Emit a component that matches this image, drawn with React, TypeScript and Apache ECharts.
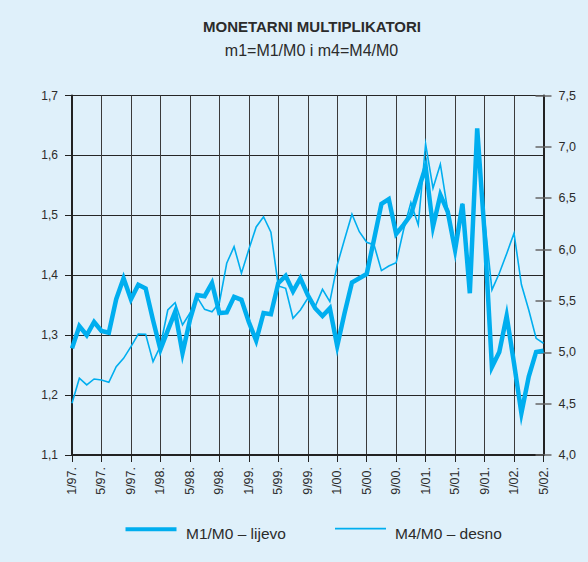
import React, { useEffect, useRef } from 'react';
import * as echarts from 'echarts';

const months: string[] = [];
for (let y = 97; y <= 102; y++) {
  for (let m = 1; m <= 12; m++) {
    if (y === 102 && m > 5) break;
    months.push(`${m}/${String(y % 100).padStart(2, '0')}.`);
  }
}

const m1m0: number[] = [
  1.278, 1.315, 1.300, 1.322, 1.307, 1.304, 1.360, 1.395, 1.360, 1.384, 1.378, 1.325,
  1.276, 1.308, 1.339, 1.270, 1.325, 1.367, 1.365, 1.387, 1.337, 1.338, 1.364, 1.359,
  1.322, 1.291, 1.337, 1.335, 1.387, 1.399, 1.373, 1.395, 1.367, 1.345, 1.332, 1.345,
  1.282, 1.337, 1.388, 1.395, 1.402, 1.460, 1.519, 1.527, 1.469, 1.484, 1.501, 1.542,
  1.581, 1.481, 1.534, 1.506, 1.442, 1.519, 1.370, 1.645, 1.470, 1.247, 1.272, 1.332,
  1.253, 1.170, 1.231, 1.272, 1.274,
];

const m4m0: number[] = [
  4.503, 4.747, 4.682, 4.740, 4.730, 4.708, 4.860, 4.941, 5.055, 5.178, 5.175, 4.909,
  5.061, 5.412, 5.483, 5.266, 5.380, 5.535, 5.418, 5.395, 5.480, 5.867, 6.028, 5.770,
  6.000, 6.220, 6.320, 6.170, 5.646, 5.623, 5.331, 5.412, 5.526, 5.444, 5.613, 5.493,
  5.850, 6.100, 6.344, 6.174, 6.071, 6.045, 5.795, 5.840, 5.872, 6.191, 6.457, 6.240,
  7.028, 6.597, 6.831, 6.380, 6.000, 6.450, 5.580, 7.050, 6.300, 5.607, 5.769, 5.960,
  6.159, 5.660, 5.412, 5.136, 5.088,
];

const titleText = 'MONETARNI MULTIPLIKATORI';
const subtitleText = 'm1=M1/M0 i m4=M4/M0';
const legendM1 = 'M1/M0 \u2013 lijevo';
const legendM4 = 'M4/M0 \u2013 desno';

const FONT = '"Liberation Sans", Arial, Helvetica, sans-serif';
const BLUE = '#00aeef';
const TEXT = '#2b2b2b';
const fmt = (v: number) => v.toFixed(1).replace('.', ',');

export default function App() {
  const ref = useRef<HTMLDivElement>(null);
  useEffect(() => {
    document.body.style.margin = '0';
    const chart = echarts.init(ref.current!, undefined, { renderer: 'svg' });
    chart.setOption({
      animation: false,
      backgroundColor: '#dff0fa',
      textStyle: { fontFamily: FONT },
      grid: { left: 72, right: 44.5, top: 95.5, bottom: 107, containLabel: false, outerBoundsMode: 'none' },
      xAxis: {
        type: 'category',
        data: months,
        boundaryGap: false,
        axisLine: { lineStyle: { color: '#222', width: 2 } },
        axisTick: { interval: 3, length: 7, lineStyle: { color: '#222', width: 1 } },
        axisLabel: { interval: 3, rotate: 90, margin: 12, fontSize: 12.5, color: TEXT, fontFamily: FONT },
        splitLine: { show: true, interval: 3, lineStyle: { color: '#3a3a3a', width: 1 } },
      },
      yAxis: [
        {
          type: 'value', min: 1.1, max: 1.7, interval: 0.1, position: 'left',
          axisLine: { show: true, lineStyle: { color: '#222', width: 2 } },
          axisTick: { show: true, length: 7, lineStyle: { color: '#222', width: 1 } },
          axisLabel: { formatter: fmt, margin: 14, fontSize: 12, color: TEXT, fontFamily: FONT },
          splitLine: { show: true, lineStyle: { color: '#262626', width: 1 } },
        },
        {
          type: 'value', min: 4, max: 7.5, interval: 0.5, position: 'right',
          axisLine: { show: true, lineStyle: { color: '#222', width: 2 } },
          axisTick: { show: true, length: 8, lineStyle: { color: '#666', width: 1.5 } },
          axisLabel: { formatter: fmt, margin: 15, fontSize: 12.5, color: TEXT, fontFamily: FONT },
          splitLine: { show: false },
        },
        {
          type: 'value', min: 4, max: 7.5, interval: 0.5, position: 'right',
          axisLine: { show: false },
          axisTick: { show: true, inside: true, length: 8, lineStyle: { color: '#666', width: 1.5 } },
          axisLabel: { show: false },
          splitLine: { show: false },
        },
      ],
      series: [
        {
          name: legendM1, type: 'line', yAxisIndex: 0, data: m1m0, symbol: 'none',
          lineStyle: { color: BLUE, width: 4.5, join: 'miter', miterLimit: 8 },
        },
        {
          name: legendM4, type: 'line', yAxisIndex: 1, data: m4m0, symbol: 'none',
          lineStyle: { color: BLUE, width: 1.6, join: 'miter', miterLimit: 8 },
        },
      ],
      graphic: [
        { type: 'text', x: 312, y: 26, style: { text: titleText, font: `bold 15px ${FONT}`, fill: TEXT, textAlign: 'center', textVerticalAlign: 'middle' } },
        { type: 'text', x: 311.5, y: 50.5, style: { text: subtitleText, font: `16px ${FONT}`, fill: TEXT, textAlign: 'center', textVerticalAlign: 'middle' } },
        { type: 'line', shape: { x1: 125.5, y1: 529.3, x2: 176.5, y2: 529.3 }, style: { stroke: BLUE, lineWidth: 4 } },
        { type: 'text', x: 186, y: 533, style: { text: legendM1, font: `15.5px ${FONT}`, fill: TEXT, textAlign: 'left', textVerticalAlign: 'middle' } },
        { type: 'line', shape: { x1: 335, y1: 528.7, x2: 386, y2: 528.7 }, style: { stroke: BLUE, lineWidth: 1.8 } },
        { type: 'text', x: 395, y: 533, style: { text: legendM4, font: `15.5px ${FONT}`, fill: TEXT, textAlign: 'left', textVerticalAlign: 'middle' } },
      ],
    });
    return () => chart.dispose();
  }, []);
  return <div ref={ref} style={{ width: 588, height: 562 }} />;
}
